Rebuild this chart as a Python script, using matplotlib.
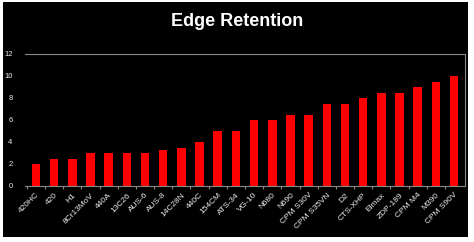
import matplotlib.pyplot as plt
from matplotlib.patches import Rectangle

steels = ["420HC", "420", "H1", "8Cr13MoV", "440A", "13C26", "AUS-6", "AUS-8",
          "14C28N", "440C", "154CM", "ATS-34", "VG-10", "N680", "N690",
          "CPM S30V", "CPM S35VN", "D2", "CTS-XHP", "Elmax", "ZDP-189",
          "CPM M4", "M390", "CPM S90V"]
retention = [2, 2.5, 2.5, 3, 3, 3, 3, 3.25, 3.5, 4, 5, 5, 6, 6, 6.5, 6.5,
             7.5, 7.5, 8, 8.5, 8.5, 9, 9.5, 10]
yticks = [0, 2, 4, 6, 8, 10, 12]

W, H = 474, 242
fig = plt.figure(figsize=(W / 100, H / 100), dpi=100, facecolor="white")
# black slide background with thin white margin
fig.patches.append(Rectangle((3 / W, 5 / H), 465 / W, 235 / H,
                             transform=fig.transFigure, facecolor="black",
                             edgecolor="none", zorder=-5))

ax = fig.add_axes([25 / W, 1 - 186 / H, 440 / W, 132 / H])
ax.set_zorder(2)
ax.set_facecolor("black")
x = list(range(len(steels)))
ax.bar(x, retention, width=0.47, color="#ff0000", zorder=2)

ax.set_xlim(-0.6, len(steels) - 0.4)
ax.set_ylim(0, 12)
ax.set_yticks(yticks)
ax.set_yticklabels([str(v) for v in yticks], color="#eeeeee", fontsize=5.5,
                   family=["Liberation Sans", "DejaVu Sans"])
ax.tick_params(axis="y", length=0, pad=9)

ax.set_xticks([i + 0.5 for i in x[:-1]] + [-0.5], minor=False)
ax.set_xticklabels([])
ax.set_xticks(x, minor=True)
ax.set_xticklabels(steels, minor=True, rotation=45, ha="right",
                   rotation_mode="anchor", color="#eeeeee", fontsize=6,
                   family=["Liberation Sans", "DejaVu Sans"])
ax.tick_params(axis="x", which="major", length=2, color="#888888")
ax.tick_params(axis="x", which="minor", length=0, pad=4)

ax.spines["left"].set_visible(False)
for side in ["top", "right", "bottom"]:
    ax.spines[side].set_color("#888888")
    ax.spines[side].set_linewidth(0.8)

fig.text(0.5, 1 - 21 / H, "Edge Retention", ha="center", va="center",
         color="white", fontsize=13, fontweight="bold",
         family=["Liberation Sans", "DejaVu Sans"])

fig.savefig("out.png", dpi=100, facecolor="white")
